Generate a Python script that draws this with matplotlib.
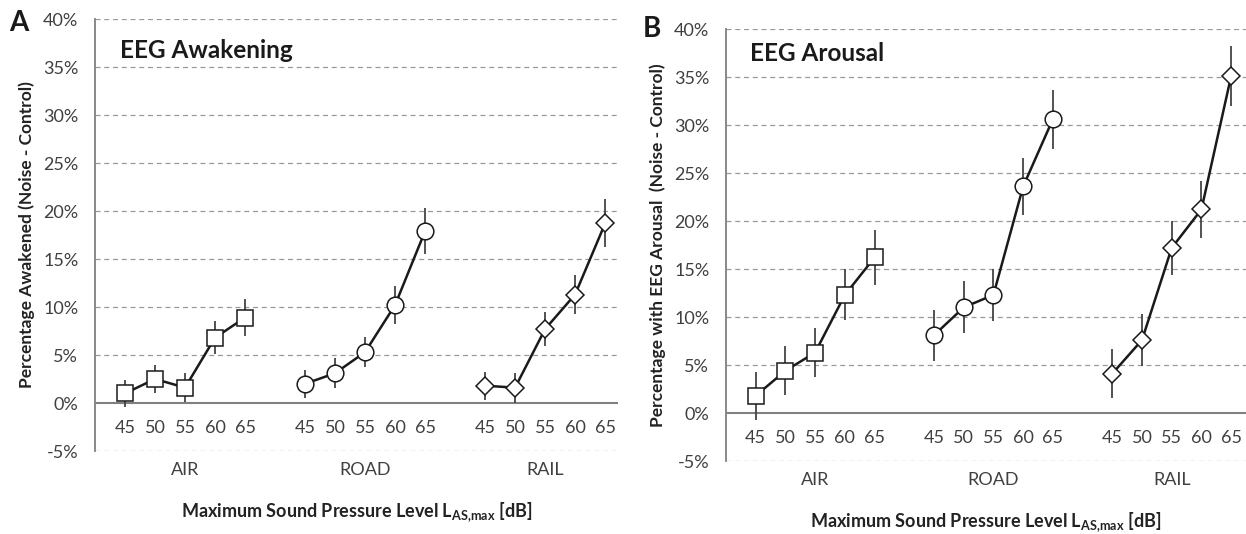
import matplotlib
matplotlib.use("Agg")
import matplotlib.pyplot as plt
import numpy as np

plt.rcParams['font.family'] = ['Lato', 'DejaVu Sans']
plt.rcParams['mathtext.fontset'] = 'custom'
plt.rcParams['mathtext.rm'] = 'Lato'
plt.rcParams['mathtext.bf'] = 'Lato:bold'

levels = [45, 50, 55, 60, 65]
sources = ['AIR', 'ROAD', 'RAIL']

# Panel A: EEG awakening (% noise - control)
awak_air = [1.0, 2.5, 1.6, 6.8, 8.9]
awak_air_err = [1.4, 1.5, 1.5, 1.7, 1.95]
awak_road = [2.0, 3.1, 5.3, 10.2, 17.9]
awak_road_err = [1.45, 1.55, 1.6, 2.0, 2.4]
awak_rail = [1.8, 1.6, 7.7, 11.3, 18.7]
awak_rail_err = [1.45, 1.55, 1.8, 2.0, 2.5]

# Panel B: EEG arousal (% noise - control)
arou_air = [1.8, 4.4, 6.3, 12.3, 16.2]
arou_air_err = [2.5, 2.55, 2.6, 2.65, 2.85]
arou_road = [8.1, 11.0, 12.3, 23.6, 30.6]
arou_road_err = [2.65, 2.7, 2.75, 3.0, 3.05]
arou_rail = [4.1, 7.6, 17.2, 21.2, 35.1]
arou_rail_err = [2.55, 2.7, 2.85, 3.0, 3.15]

yticks = [-5, 0, 5, 10, 15, 20, 25, 30, 35, 40]
markers = ['s', 'o', 'D']
msizes = [11, 12, 9.5]

W, H = 1246, 534
fig = plt.figure(figsize=(W / 100, H / 100), dpi=100)

def make_axes(left_px, top_px, right_px, bottom_px):
    return fig.add_axes([left_px / W, 1 - bottom_px / H,
                         (right_px - left_px) / W, (bottom_px - top_px) / H])

axA = make_axes(95, 19, 618, 451)
axB = make_axes(726, 29, 1246, 461)

tick_col = '#404040'
FS = 13

def draw_panel(ax, series, errs, title, ylabel, letter, xmax, title_xy, letter_xy):
    ax.set_xlim(-1, xmax)
    ax.set_ylim(-5, 40)
    n = len(levels)
    for g, (vals, err) in enumerate(zip(series, errs)):
        xs = np.arange(n) + g * (n + 1)
        ax.errorbar(xs, vals, yerr=err, fmt='none', ecolor='#444444',
                    elinewidth=1.3, capsize=0, zorder=3)
        ax.plot(xs, vals, color='#1a1a1a', lw=1.8, zorder=4,
                marker=markers[g], markersize=msizes[g],
                markerfacecolor='white', markeredgecolor='#1a1a1a',
                markeredgewidth=1.1)
        for xi, lv in zip(xs, levels):
            ax.text(xi, -2.6, str(lv), ha='center', va='center',
                    fontsize=FS, color=tick_col)
    ax.set_yticks(yticks)
    ax.set_yticklabels([f'{v}%' for v in yticks])
    for v in yticks:
        if v == 0:
            ax.axhline(0, color='#808080', lw=1.5, zorder=2)
        else:
            ax.axhline(v, color='#9a9a9a', lw=0.9, ls=(0, (4, 3)), zorder=1)
    centers = [2 + g * (n + 1) for g in range(len(sources))]
    ax.set_xticks(centers)
    ax.set_xticklabels(sources)
    ax.tick_params(axis='both', length=0, labelsize=FS, labelcolor=tick_col)
    ax.tick_params(axis='y', pad=12)
    ax.tick_params(axis='x', pad=8)
    for s in ['top', 'right', 'bottom']:
        ax.spines[s].set_visible(False)
    ax.spines['left'].set_color('#808080')
    ax.spines['left'].set_linewidth(1.3)
    ax.set_xlabel(r'Maximum Sound Pressure Level L$_{\mathbf{AS{,}max}}$ [dB]',
                  fontsize=13, fontweight='bold', color='#222222', labelpad=16)
    ax.set_ylabel(ylabel, fontsize=12.5, fontweight='bold', color='#222222', labelpad=6)
    ax.text(title_xy[0], title_xy[1], title, transform=ax.transAxes,
            fontsize=17.5, fontweight='bold', color='#1a1a1a', ha='left', va='center')
    fig.text(letter_xy[0] / W, 1 - letter_xy[1] / H, letter, fontsize=20,
             fontweight='bold', color='#1a1a1a', ha='center', va='center')

draw_panel(axA, [awak_air, awak_road, awak_rail],
           [awak_air_err, awak_road_err, awak_rail_err],
           'EEG Awakening', 'Percentage Awakened (Noise - Control)', 'A', 16.43,
           (0.048, 0.928), (19, 23))
draw_panel(axB, [arou_air, arou_road, arou_rail],
           [arou_air_err, arou_road_err, arou_rail_err],
           'EEG Arousal', 'Percentage with EEG Arousal  (Noise - Control)', 'B', 16.5,
           (0.046, 0.944), (652, 29))

fig.savefig('out.png', dpi=100, facecolor='white')
